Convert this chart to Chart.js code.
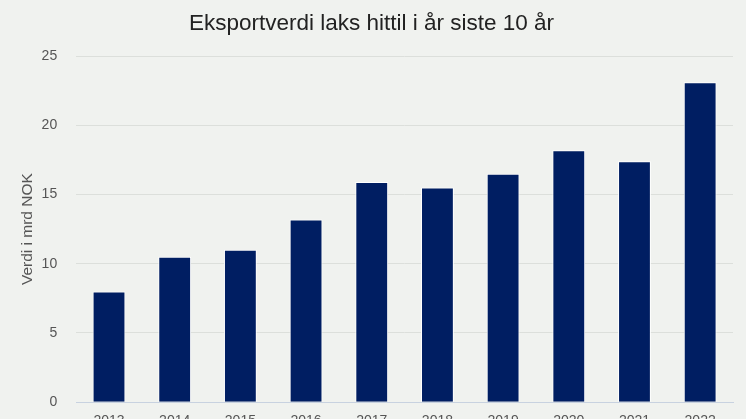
<!DOCTYPE html>
<html>
<head>
<meta charset="utf-8">
<script src="https://cdn.jsdelivr.net/npm/chart.js@4/dist/chart.umd.min.js"></script>
<style>
  html, body { margin: 0; padding: 0; background: #f0f2ef; overflow: hidden; }
  #wrap { width: 746px; height: 441px; }
</style>
</head>
<body>
<div id="wrap"><canvas id="myChart" width="746" height="441"></canvas></div>
<script>
var years = ['2013', '2014', '2015', '2016', '2017', '2018', '2019', '2020', '2021', '2022'];
var values = [8.0, 10.5, 11.0, 13.2, 15.9, 15.5, 16.5, 18.2, 17.4, 23.1];
var yTicks = [0, 5, 10, 15, 20, 25];

var ctx = document.getElementById('myChart').getContext('2d');

var bg = {
    id: 'bg',
    beforeDraw: function (chart) {
        var c = chart.ctx;
        c.save();
        c.fillStyle = '#f0f2ef';
        c.fillRect(0, 0, chart.width, chart.height);
        c.restore();
    }
};

var myChart = new Chart(ctx, {
    type: 'bar',
    data: {
        labels: years,
        datasets: [{
            label: 'Eksportverdi',
            data: values,
            backgroundColor: '#001e62',
            borderColor: '#ffffff',
            borderWidth: 1,
            barPercentage: 0.5,
            categoryPercentage: 1
        }]
    },
    options: {
        responsive: false,
        animation: false,
        layout: { padding: { left: 10, right: 13, top: 10, bottom: 0 } },
        plugins: {
            legend: { display: false },
            tooltip: { enabled: false },
            title: {
                display: true,
                text: 'Eksportverdi laks hittil i år siste 10 år',
                color: '#222222',
                font: { family: 'Liberation Sans, Arial, sans-serif', size: 22.5, weight: 'normal' },
                padding: { top: 0, bottom: 19 }
            }
        },
        scales: {
            x: {
                grid: { display: false, drawTicks: false },
                border: { color: '#c8d2e0', width: 1 },
                ticks: {
                    color: '#555555',
                    padding: 11,
                    font: { family: 'Liberation Sans, Arial, sans-serif', size: 14 }
                }
            },
            y: {
                min: 0,
                max: 25,
                afterBuildTicks: function (axis) {
                    axis.ticks = yTicks.map(function (v) { return { value: v }; });
                },
                grid: { color: '#dcdfdb', drawTicks: false },
                border: { display: false },
                ticks: {
                    color: '#555555',
                    padding: 19,
                    font: { family: 'Liberation Sans, Arial, sans-serif', size: 14 }
                },
                title: {
                    display: true,
                    text: 'Verdi i mrd NOK',
                    color: '#555555',
                    font: { family: 'Liberation Sans, Arial, sans-serif', size: 15.5 },
                    padding: { top: 8, bottom: -14 }
                }
            }
        }
    },
    plugins: [bg]
});
</script>
</body>
</html>
